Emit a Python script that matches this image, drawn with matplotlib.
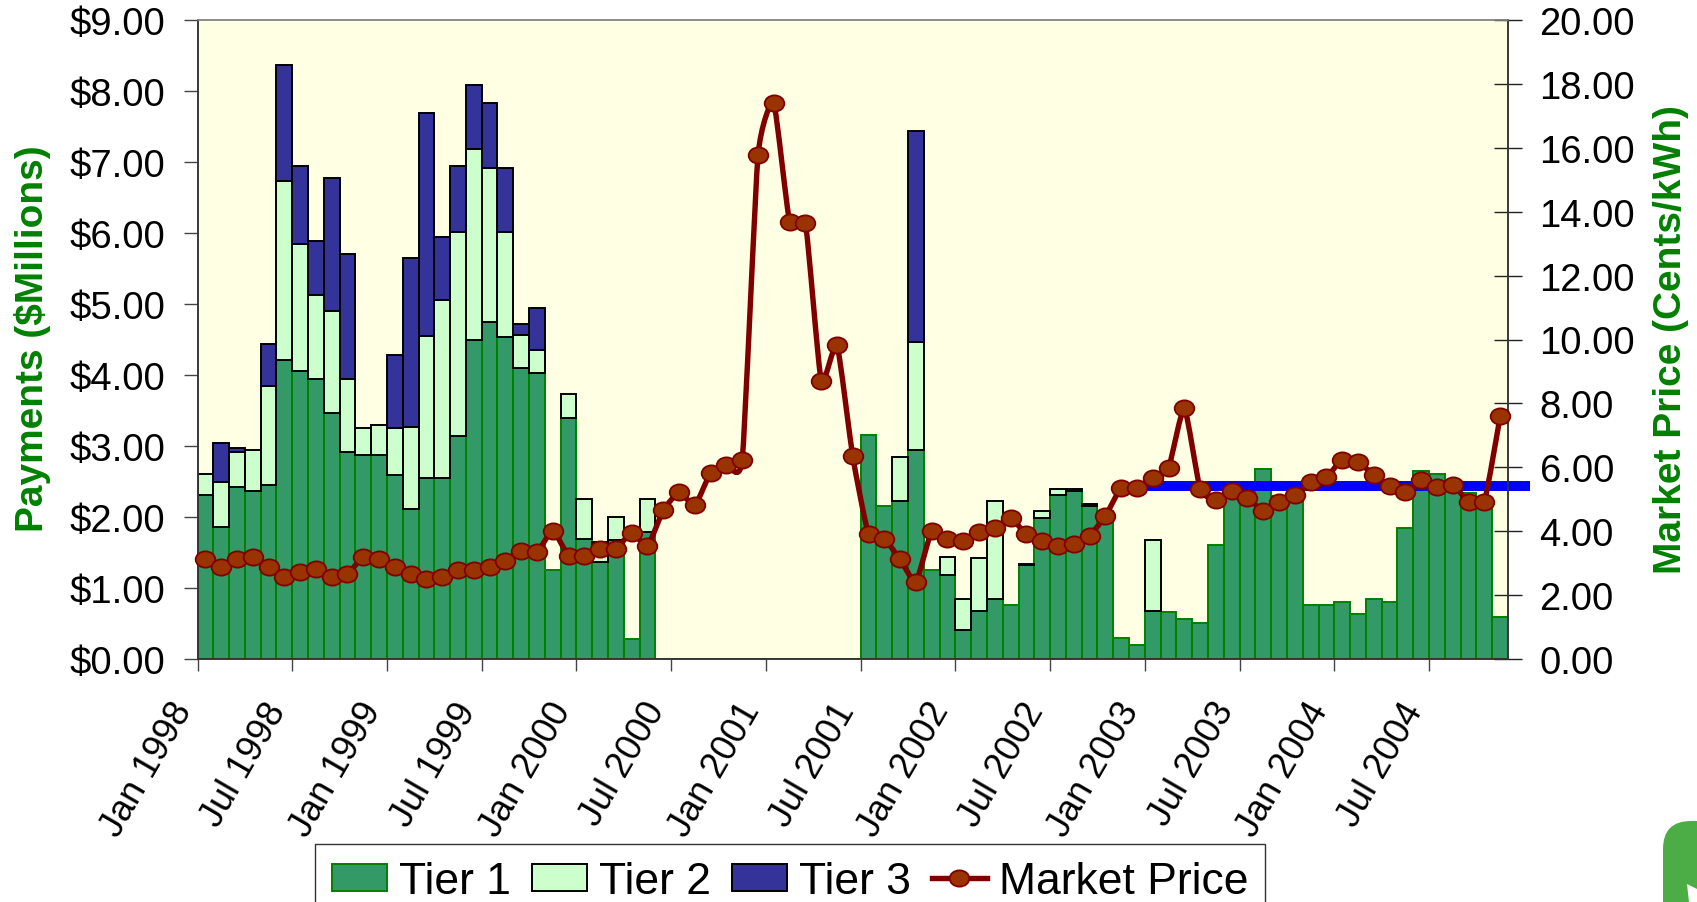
import numpy as np
import matplotlib
matplotlib.use("Agg")
import matplotlib.pyplot as plt
from matplotlib.lines import Line2D
from matplotlib.markers import MarkerStyle
from matplotlib.patches import FancyBboxPatch, Patch, PathPatch, Polygon
from matplotlib.path import Path
from matplotlib.transforms import Affine2D, ScaledTranslation

plt.rcParams['font.family'] = ['Liberation Sans', 'DejaVu Sans']

tick_labels = ["Jan 1998", "Jul 1998", "Jan 1999", "Jul 1999", "Jan 2000", "Jul 2000", "Jan 2001",
               "Jul 2001", "Jan 2002", "Jul 2002", "Jan 2003", "Jul 2003", "Jan 2004", "Jul 2004"]

tier1 = [2.31, 1.86, 2.42, 2.36, 2.45, 4.21, 4.06, 3.94, 3.46, 2.91, 2.87, 2.87, 2.59, 2.11, 2.55, 2.55,
         3.14, 4.49, 4.74, 4.54, 4.10, 4.03, 1.26, 3.39, 1.69, 1.37, 1.67, 0.28, 1.79,
         0, 0, 0, 0, 0, 0, 0, 0, 0, 0, 0, 0, 0,
         3.16, 2.15, 2.22, 2.94, 1.26, 1.18, 0.41, 0.68, 0.84, 0.76, 1.32, 1.99, 2.31, 2.36, 2.16, 2.08,
         0.30, 0.20, 0.68, 0.66, 0.57, 0.51, 1.61, 2.30, 2.25, 2.68, 2.30, 2.26, 0.76, 0.76, 0.80, 0.64,
         0.85, 0.80, 1.85, 2.65, 2.61, 2.50, 2.34, 2.15, 0.59]
# cumulative top of Tier 2 (0 = no Tier 2 in that month)
tier2_top = [2.61, 2.50, 2.92, 2.95, 3.85, 6.73, 5.85, 5.12, 4.90, 3.94, 3.25, 3.30, 3.25, 3.27, 4.55, 5.06,
             6.01, 7.18, 6.91, 6.01, 4.57, 4.35, 0, 3.73, 2.26, 1.65, 2.00, 0, 2.26,
             0, 0, 0, 0, 0, 0, 0, 0, 0, 0, 0, 0, 0,
             0, 0, 2.85, 4.46, 0, 1.44, 0.84, 1.42, 2.22, 0, 1.34, 2.08, 2.40, 2.40, 2.19, 0,
             0, 0, 1.67, 0, 0, 0, 0, 0, 0, 0, 0, 0, 0, 0, 0, 0,
             0, 0, 0, 0, 0, 0, 0, 0, 0]
# cumulative top of Tier 3 (0 = no Tier 3 in that month)
tier3_top = [0, 3.04, 2.97, 0, 4.44, 8.36, 6.94, 5.89, 6.78, 5.70, 0, 0, 4.28, 5.65, 7.69, 5.95,
             6.94, 8.08, 7.83, 6.91, 4.72, 4.95, 0, 0, 0, 0, 0, 0, 0,
             0, 0, 0, 0, 0, 0, 0, 0, 0, 0, 0, 0, 0,
             0, 0, 0, 7.44] + [0] * 37
market_price = [3.13, 2.88, 3.13, 3.19, 2.88, 2.56, 2.73, 2.82, 2.56, 2.67, 3.19, 3.13, 2.88, 2.67, 2.51, 2.56,
                2.77, 2.77, 2.88, 3.08, 3.39, 3.34, 4.02, 3.23, 3.23, 3.45, 3.45, 3.95, 3.54, 4.65, 5.22,
                4.81, 5.83, 6.07, 6.24, 15.76, 17.39, 13.69, 13.66, 8.71, 9.83, 6.34, 3.90, 3.76, 3.12, 2.41,
                4.00, 3.76, 3.69, 3.97, 4.10, 4.41, 3.90, 3.69, 3.53, 3.59, 3.86, 4.47, 5.36, 5.36, 5.66, 5.97,
                7.86, 5.32, 4.98, 5.25, 5.05, 4.64, 4.92, 5.12, 5.53, 5.69, 6.24, 6.17, 5.76, 5.42, 5.22, 5.60,
                5.39, 5.46, 4.92, 4.92, 7.59]
target_x = [59.4, 83.9]
target_price = [5.40, 5.40]

months = np.arange(len(tier1))
t1 = np.array(tier1)
t2 = np.array(tier2_top)
t3 = np.array(tier3_top)

W, H = 1697, 903
fig = plt.figure(figsize=(W / 100, H / 100), dpi=100, facecolor='white')

# decorative corner shape, in pixel coordinates
deco = fig.add_axes([0, 0, 1, 1], zorder=-1)
deco.set_xlim(0, W)
deco.set_ylim(H, 0)
deco.axis('off')
deco.add_patch(FancyBboxPatch((1663, 822), 120, 150, boxstyle='round,pad=0,rounding_size=28',
                              facecolor='#4CAD47', edgecolor='none'))
deco.add_patch(Polygon([(1687, 885), (1697, 890), (1697, 903), (1689, 903)], facecolor='white', edgecolor='none'))

L, R, T, B = 197.5, 1508, 21, 660
ax = fig.add_axes([L / W, 1 - B / H, (R - L) / W, (B - T) / H], zorder=1)
ax.set_facecolor('#FFFFE4')

GREEN, LIGHT, BLUE = '#339966', '#CCFFCC', '#333399'
m2 = t2 > 0
m3 = t3 > 0
ax.bar(months, t1, width=1.0, color=GREEN, edgecolor='#008000', linewidth=1.4)
ax.bar(months[m2], (t2 - t1)[m2], bottom=t1[m2], width=1.0, color=LIGHT, edgecolor='black', linewidth=1.4)
base3 = np.where(m2, t2, t1)
ax.bar(months[m3], (t3 - base3)[m3], bottom=base3[m3], width=1.0, color=BLUE, edgecolor='black', linewidth=1.4)

ax.set_xlim(-0.5, 82.5)
ax.set_ylim(0, 9)
ax.set_yticks(np.arange(0, 10))
ax.set_yticklabels([f"${v:.2f}" for v in range(10)])
ax.set_xticks(np.arange(len(tick_labels)) * 6 - 0.5)
ax.set_xticklabels(tick_labels, rotation=60, ha='right', va='top', rotation_mode='anchor')
ax.tick_params(axis='y', labelsize=27.5, length=10, width=1, color='#444444', pad=13)
ax.tick_params(axis='x', labelsize=26, length=8.6, width=1, color='#444444', pad=18)
shift = ScaledTranslation(-29 / 100, 0, fig.dpi_scale_trans)
for lab in ax.get_xticklabels():
    lab.set_transform(lab.get_transform() + shift)

ax2 = ax.twinx()
ax2.set_zorder(2)
ax2.set_ylim(0, 20)
ax2.set_yticks(np.arange(0, 21, 2))
ax2.set_yticklabels([f"{v:.2f}" for v in range(0, 21, 2)])
ax2.tick_params(axis='y', labelsize=27.5, direction='inout', length=19.5, width=1, color='#222222', pad=13)
ax2.plot(target_x, target_price, color='#0000FF', lw=7.2, solid_capstyle='butt', clip_on=False, zorder=2)

# Market Price: lightly smoothed line through the monthly values, as in the source chart
mp = np.column_stack([months, market_price])
tan = np.zeros_like(mp)
tan[1:-1] = (mp[2:] - mp[:-2]) / 12
verts = [mp[0]]
codes = [Path.MOVETO]
for i in range(len(mp) - 1):
    verts += [mp[i] + tan[i], mp[i + 1] - tan[i + 1], mp[i + 1]]
    codes += [Path.CURVE4] * 3
ax2.add_patch(PathPatch(Path(np.array(verts), codes), facecolor='none', edgecolor='#800000', lw=3.9,
                        zorder=3, clip_on=False))
marker = MarkerStyle('o', transform=Affine2D().scale(1.15, 0.95))
ax2.plot(months, market_price, linestyle='none', marker=marker, ms=12.3,
         mfc='#993300', mec='#800000', mew=1.3, zorder=4, clip_on=False)

for a in (ax, ax2):
    for s in a.spines.values():
        s.set_color('#333333')
        s.set_linewidth(1.1)
    a.spines['top'].set_color('#888888')

fig.text(33 / W, 1 - 339 / H, "Payments ($Millions)", rotation=90, color='#008000', fontsize=28,
         fontweight='bold', ha='center', va='center')
fig.text(1671 / W, 1 - 340 / H, "Market Price (Cents/kWh)", rotation=90, color='#008000', fontsize=28,
         fontweight='bold', ha='center', va='center')

handles = [
    Patch(facecolor=GREEN, edgecolor='#008000', linewidth=1.4),
    Patch(facecolor=LIGHT, edgecolor='black', linewidth=1.4),
    Patch(facecolor=BLUE, edgecolor='black', linewidth=1.4),
    Line2D([], [], color='#800000', lw=3.9, marker=marker, ms=12.3, mfc='#993300', mec='#800000', mew=1.3),
]
fig.legend(handles, ["Tier 1", "Tier 2", "Tier 3", "Market Price"], ncols=4, loc='upper left',
           bbox_to_anchor=(315 / W, 1 - 845 / H), bbox_transform=fig.transFigure, borderaxespad=0,
           fontsize=32, frameon=True, fancybox=False, edgecolor='#333333', facecolor='white', framealpha=1,
           handlelength=1.24, handleheight=0.55, handletextpad=0.27, columnspacing=0.47, borderpad=0.38)

fig.savefig('out.png', dpi=100)
